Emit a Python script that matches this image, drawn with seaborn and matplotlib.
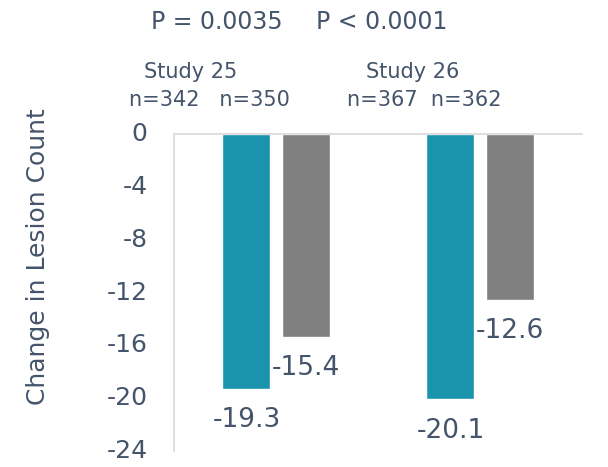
import pandas as pd, matplotlib.pyplot as plt
import seaborn as sns

# data
studies = ['Study 25', 'Study 26']
groups = ['Active', 'Vehicle']
active_vals = [-19.3, -20.1]
vehicle_vals = [-15.4, -12.6]
n_labels = ['n=342   n=350', 'n=367  n=362']
p_labels = ['P = 0.0035', 'P < 0.0001']

df = pd.DataFrame({
    'study': studies * 2,
    'group': [groups[0]] * 2 + [groups[1]] * 2,
    'change': active_vals + vehicle_vals,
})

text_col = '#44546A'
grid_col = '#D9D9D9'

sns.set_theme(style='white')
plt.rcParams['font.family'] = ['DejaVu Sans']
plt.rcParams['axes.unicode_minus'] = False

fig = plt.figure(figsize=(6.08, 4.67), dpi=100)
W, H = 608, 467
ax = fig.add_axes([174 / W, 1 - 451 / H, 408 / W, (451 - 134) / H])

sns.barplot(data=df, x='study', y='change', hue='group', hue_order=groups,
            palette=['#1A93AD', '#808080'], width=0.58, gap=0.19,
            legend=False, ax=ax, saturation=1)

ax.set_xlim(-0.5, 1.5)
ax.set_ylim(-24, 0)
ax.set_yticks(range(0, -25, -4))
ax.tick_params(axis='y', length=0, pad=19, labelsize=18, labelcolor=text_col)
for lbl in ax.get_yticklabels():
    lbl.set_verticalalignment('center')
ax.set_xticks([])
ax.set_xlabel('')
ax.set_ylabel('Change in Lesion Count', fontsize=18, color=text_col)
ax.yaxis.set_label_coords(-0.304, (451 - 257) / (451 - 134))

for side in ['right', 'bottom']:
    ax.spines[side].set_visible(False)
for side in ['top', 'left']:
    ax.spines[side].set_color(grid_col)
    ax.spines[side].set_linewidth(1.2)

# value labels under each bar
for cont in ax.containers:
    ax.bar_label(cont, fmt='%.1f', padding=13, fontsize=19, color=text_col)

# header texts (placed in figure pixels)
fig.text(217 / W, 1 - 22 / H, p_labels[0], ha='center', va='center', fontsize=17, color=text_col)
fig.text(382 / W, 1 - 22 / H, p_labels[1], ha='center', va='center', fontsize=17, color=text_col)
fig.text(191 / W, 1 - 72 / H, studies[0], ha='center', va='center', fontsize=15, color=text_col)
fig.text(413 / W, 1 - 72 / H, studies[1], ha='center', va='center', fontsize=15, color=text_col)
fig.text(209 / W, 1 - 100 / H, n_labels[0], ha='center', va='center', fontsize=15, color=text_col)
fig.text(424 / W, 1 - 100 / H, n_labels[1], ha='center', va='center', fontsize=15, color=text_col)

plt.savefig('out.png', dpi=100)
plt.close()
